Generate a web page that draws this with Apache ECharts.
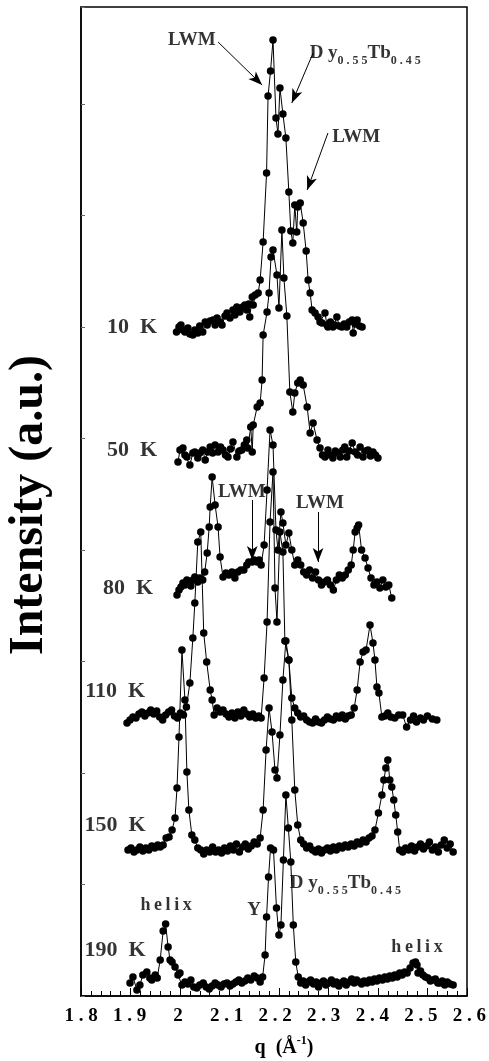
<!DOCTYPE html>
<html><head><meta charset="utf-8">
<script src="https://cdn.jsdelivr.net/npm/echarts@6/dist/echarts.min.js"></script>
<style>html,body{margin:0;padding:0;background:#fff}#c{width:489px;height:1061px}</style>
</head><body><div id="c"></div>
<script>
// ---------- DATA ----------
const temps = ['10  K', '50  K', '80  K', '110  K', '150  K', '190  K'];
// vertical offset of each scan (a.u.)
const offsets = [666, 541, 406, 274, 146, 11];
// [q (1/Å), intensity above own baseline (a.u.)]
const c10 = [[1.993,-2],[1.998,3],[2.002,5],[2.006,0],[2.010,-2],[2.016,2],[2.020,-4],[2.026,-5],[2.030,0],[2.036,-3],[2.040,4],[2.046,-2],[2.051,8],[2.055,5],[2.061,9],[2.067,10],[2.071,5],[2.075,12],[2.081,8],[2.085,5],[2.091,14],[2.095,17],[2.101,12],[2.107,20],[2.111,15],[2.115,23],[2.121,18],[2.127,23],[2.131,25],[2.135,20],[2.139,26],[2.141,13],[2.146,33],[2.148,25],[2.152,35],[2.158,37],[2.162,50],[2.168,88],[2.175,157],[2.178,234],[2.183,259],[2.188,290],[2.194,212],[2.198,196],[2.202,242],[2.208,216],[2.214,192],[2.220,138],[2.224,99],[2.228,87],[2.232,125],[2.236,98],[2.238,123],[2.243,127],[2.249,107],[2.255,79],[2.259,50],[2.263,37],[2.267,20],[2.273,17],[2.279,13],[2.283,8],[2.287,7],[2.293,17],[2.297,5],[2.299,3],[2.304,8],[2.309,3],[2.313,5],[2.317,13],[2.322,4],[2.327,3],[2.332,6],[2.337,3],[2.342,8],[2.348,10],[2.350,-3],[2.354,6],[2.358,10],[2.363,4],[2.368,3]];
const c50 = [[1.996,-7],[2.000,5],[2.006,7],[2.010,0],[2.014,-2],[2.020,-10],[2.026,2],[2.030,3],[2.036,-3],[2.040,2],[2.046,5],[2.051,-5],[2.056,3],[2.061,8],[2.066,2],[2.071,10],[2.077,3],[2.082,8],[2.087,5],[2.092,0],[2.097,-2],[2.102,6],[2.107,13],[2.115,-2],[2.120,4],[2.125,5],[2.130,10],[2.135,15],[2.137,7],[2.143,28],[2.146,3],[2.148,30],[2.156,48],[2.162,52],[2.166,75],[2.168,120],[2.176,143],[2.180,162],[2.184,198],[2.188,205],[2.196,180],[2.200,147],[2.206,225],[2.210,177],[2.216,139],[2.222,63],[2.228,43],[2.232,62],[2.238,72],[2.243,75],[2.249,70],[2.257,48],[2.263,22],[2.269,32],[2.277,15],[2.283,7],[2.288,0],[2.293,-2],[2.299,5],[2.304,0],[2.309,-3],[2.314,4],[2.319,2],[2.324,-2],[2.329,5],[2.333,8],[2.337,-2],[2.342,4],[2.348,12],[2.354,3],[2.359,0],[2.364,8],[2.370,-2],[2.375,4],[2.380,5],[2.385,-1],[2.390,3],[2.395,0],[2.400,-3]];
const c80 = [[1.994,-5],[1.998,0],[2.002,3],[2.006,7],[2.010,5],[2.014,10],[2.018,8],[2.022,4],[2.026,10],[2.030,13],[2.036,8],[2.040,12],[2.046,10],[2.050,18],[2.055,37],[2.059,63],[2.061,83],[2.065,113],[2.071,85],[2.077,63],[2.081,33],[2.087,13],[2.093,17],[2.099,15],[2.105,18],[2.111,12],[2.117,18],[2.123,20],[2.129,20],[2.135,25],[2.139,28],[2.146,28],[2.150,30],[2.156,28],[2.160,30],[2.164,25],[2.170,45],[2.176,100],[2.182,160],[2.188,145],[2.194,60],[2.198,40],[2.204,78],[2.208,67],[2.214,45],[2.220,57],[2.226,40],[2.232,25],[2.238,30],[2.244,25],[2.250,18],[2.256,15],[2.262,20],[2.268,12],[2.274,18],[2.280,10],[2.286,5],[2.292,8],[2.298,10],[2.304,5],[2.310,0],[2.316,10],[2.322,15],[2.328,12],[2.334,15],[2.340,20],[2.346,25],[2.350,40],[2.354,58],[2.358,62],[2.361,65],[2.367,40],[2.374,32],[2.380,22],[2.386,12],[2.392,5],[2.398,8],[2.404,2],[2.410,10],[2.416,3],[2.422,5],[2.428,-8]];
const c110 = [[1.893,-1],[1.899,2],[1.905,5],[1.911,4],[1.917,8],[1.923,10],[1.929,6],[1.935,9],[1.941,12],[1.947,8],[1.953,11],[1.959,5],[1.965,2],[1.971,7],[1.977,10],[1.983,12],[1.989,6],[1.995,4],[2.001,9],[2.007,7],[2.013,15],[2.020,39],[2.026,84],[2.030,119],[2.036,180],[2.042,190],[2.048,89],[2.054,60],[2.061,32],[2.065,22],[2.069,7],[2.075,14],[2.081,10],[2.087,12],[2.093,8],[2.099,5],[2.105,9],[2.111,4],[2.117,10],[2.123,6],[2.129,12],[2.135,8],[2.141,5],[2.147,8],[2.153,4],[2.159,6],[2.164,4],[2.170,44],[2.176,100],[2.182,200],[2.188,250],[2.192,134],[2.196,100],[2.202,190],[2.208,170],[2.212,81],[2.220,62],[2.226,24],[2.232,14],[2.238,9],[2.244,5],[2.250,6],[2.256,2],[2.262,0],[2.268,-1],[2.274,3],[2.280,0],[2.286,-1],[2.292,2],[2.298,5],[2.304,3],[2.310,2],[2.316,6],[2.322,4],[2.328,7],[2.334,3],[2.340,6],[2.346,7],[2.352,14],[2.358,32],[2.364,60],[2.370,70],[2.376,72],[2.384,97],[2.390,79],[2.394,62],[2.398,35],[2.402,29],[2.408,5],[2.414,6],[2.420,9],[2.426,5],[2.434,4],[2.442,7],[2.450,7],[2.458,-5],[2.466,2],[2.472,6],[2.478,0],[2.486,4],[2.492,2],[2.500,6],[2.510,3],[2.519,2]];
const c150 = [[1.895,0],[1.901,2],[1.907,-2],[1.913,0],[1.919,3],[1.925,-1],[1.931,2],[1.937,0],[1.943,4],[1.949,2],[1.955,5],[1.960,3],[1.966,5],[1.972,12],[1.978,13],[1.984,20],[1.990,32],[1.994,62],[1.998,113],[2.004,200],[2.010,150],[2.014,78],[2.018,40],[2.024,15],[2.030,10],[2.036,2],[2.042,0],[2.048,-4],[2.054,0],[2.060,-2],[2.066,3],[2.072,-2],[2.078,0],[2.084,-3],[2.090,2],[2.096,-1],[2.102,4],[2.108,0],[2.114,6],[2.120,-2],[2.126,3],[2.132,6],[2.138,1],[2.144,4],[2.150,8],[2.156,6],[2.162,12],[2.168,40],[2.174,100],[2.180,142],[2.186,118],[2.192,80],[2.196,72],[2.202,115],[2.208,170],[2.214,209],[2.220,190],[2.226,130],[2.232,60],[2.238,25],[2.244,10],[2.250,6],[2.256,2],[2.262,4],[2.268,0],[2.274,-2],[2.280,1],[2.286,-3],[2.292,0],[2.298,2],[2.304,-1],[2.310,3],[2.316,0],[2.322,4],[2.328,2],[2.334,5],[2.340,3],[2.346,6],[2.352,4],[2.358,8],[2.364,6],[2.370,10],[2.376,8],[2.382,12],[2.388,14],[2.394,20],[2.401,37],[2.408,55],[2.412,70],[2.416,82],[2.420,90],[2.424,70],[2.428,63],[2.432,50],[2.436,35],[2.440,18],[2.444,0],[2.450,-2],[2.456,2],[2.462,0],[2.468,4],[2.474,-1],[2.480,3],[2.486,6],[2.492,1],[2.498,4],[2.504,8],[2.510,0],[2.516,3],[2.522,-2],[2.528,5],[2.534,10],[2.540,2],[2.546,6],[2.552,-2]];
const c190 = [[1.899,2],[1.905,8],[1.913,-5],[1.919,0],[1.925,10],[1.933,13],[1.939,7],[1.943,5],[1.950,10],[1.954,7],[1.960,25],[1.966,54],[1.971,61],[1.976,38],[1.980,25],[1.984,23],[1.990,18],[1.996,10],[2.000,12],[2.004,0],[2.010,3],[2.016,1],[2.022,5],[2.028,-2],[2.034,-3],[2.040,0],[2.047,2],[2.053,-2],[2.059,-4],[2.065,-1],[2.071,2],[2.077,0],[2.083,-2],[2.089,1],[2.095,2],[2.101,-1],[2.107,1],[2.113,3],[2.119,5],[2.125,2],[2.131,4],[2.137,7],[2.143,5],[2.150,9],[2.156,7],[2.162,3],[2.167,8],[2.172,30],[2.175,68],[2.179,108],[2.183,137],[2.189,135],[2.195,77],[2.200,50],[2.204,60],[2.209,125],[2.214,190],[2.219,157],[2.224,123],[2.229,60],[2.234,23],[2.239,8],[2.244,2],[2.249,4],[2.254,0],[2.259,3],[2.264,5],[2.270,1],[2.275,3],[2.280,-2],[2.285,2],[2.290,4],[2.295,0],[2.300,2],[2.306,5],[2.311,1],[2.316,3],[2.321,-1],[2.326,2],[2.331,4],[2.336,0],[2.342,3],[2.347,6],[2.352,2],[2.357,5],[2.362,3],[2.367,1],[2.372,4],[2.378,2],[2.383,5],[2.388,3],[2.393,6],[2.398,4],[2.403,7],[2.409,5],[2.414,8],[2.419,6],[2.424,9],[2.429,7],[2.434,10],[2.439,8],[2.444,12],[2.449,10],[2.454,13],[2.459,12],[2.465,17],[2.471,22],[2.476,23],[2.479,20],[2.481,12],[2.486,14],[2.491,10],[2.496,8],[2.501,7],[2.506,4],[2.511,5],[2.516,6],[2.521,2],[2.525,2],[2.530,4],[2.535,0],[2.540,3],[2.546,1],[2.552,0]];
const curves = [c10, c50, c80, c110, c150, c190];
const xTickLabels = ['1.8','1.9','2','2.1','2.2','2.3','2.4','2.5','2.6'];
// temperature label anchors [q, a.u.]
const tempLabelPos = [[1.903,669],[1.903,546],[1.895,408],[1.869,305],[1.869,171],[1.869,46]];
// annotations: [kind, q, a.u.]
const notes = [['LWM',2.024,956],['DY',2.262,941],['LWM',2.356,859],['LWM',2.125,504],['LWM',2.283,493],['helix',1.972,91],['Y',2.150,86],['DY',2.222,111],['helix',2.479,49]];
// arrows: [[q0,v0],[q1,v1]]
const arrows = [[[2.077,954],[2.166,911]],[[2.269,943],[2.226,893]],[[2.299,863],[2.257,806]],[[2.146,496],[2.146,436]],[[2.279,484],[2.279,434]]];

// ---------- CHART ----------
const FONT = '"Liberation Serif","DejaVu Serif",serif';
const chart = echarts.init(document.getElementById('c'), null, {renderer: 'canvas'});
const curveSeries = curves.map((c, k) => ({
  type: 'line', xAxisIndex: 0, yAxisIndex: 0, silent: true, animation: false,
  data: c.map(p => [p[0], p[1] + offsets[k]]),
  symbol: 'circle', symbolSize: 7.5, showSymbol: true,
  lineStyle: {color: '#000', width: 1}, itemStyle: {color: '#000'}, z: 2
}));
const richDy = {
  b: {fontFamily: FONT, fontWeight: 'bold', fontSize: 19, color: '#000', verticalAlign: 'bottom', padding: [0,0,4,0]},
  s: {fontFamily: FONT, fontWeight: 'bold', fontSize: 12, color: '#000', verticalAlign: 'bottom'}
};
const noteData = notes.map(n => {
  let text, align = 'center', fs = 19;
  if (n[0] === 'DY') { text = '{b|D y}{s|0 . 5 5}{b|Tb}{s|0 . 4 5}'; align = 'left'; }
  else if (n[0] === 'helix') { text = 'h\u2009e\u2009l\u2009i\u2009x'; fs = 18; }
  else { text = n[0]; }
  return {value: [n[1], n[2]], label: {formatter: text, align: align, fontSize: fs, rich: richDy}};
});
const option = {
  animation: false,
  backgroundColor: '#fff',
  grid: [
    {left: 81, top: 7, width: 386, height: 989, show: true, borderColor: '#000', borderWidth: 1.5, backgroundColor: 'transparent'},
    {left: 81, top: 7, width: 396, height: 989, show: false}
  ],
  xAxis: [
    {gridIndex: 0, type: 'value', min: 1.8, max: 2.58, interval: 0.1,
     axisLine: {show: true, onZero: false, lineStyle: {color: '#000', width: 1.5}},
     axisTick: {show: true, inside: true, length: 8, lineStyle: {color: '#000', width: 1}},
     minorTick: {show: true, splitNumber: 5, length: 5, lineStyle: {color: '#000', width: 1}},
     axisLabel: {show: false}, splitLine: {show: false}},
    {gridIndex: 1, type: 'value', min: 1.8, max: 2.6, interval: 0.1,
     axisLine: {show: false}, axisTick: {show: false}, splitLine: {show: false},
     axisLabel: {show: true, margin: 11, fontFamily: FONT, fontWeight: 'bold', fontSize: 19, color: '#000',
       formatter: v => (xTickLabels[Math.round((v - 1.8) * 10)] || '').split('').join(' ')}}
  ],
  yAxis: [
    {gridIndex: 0, type: 'value', min: 0, max: 989, interval: 111.5,
     axisLine: {show: true, onZero: false, lineStyle: {color: '#000', width: 1.5}},
     axisTick: {show: true, inside: true, length: 4, lineStyle: {color: '#666', width: 1}},
     axisLabel: {show: false}, splitLine: {show: false}},
    {gridIndex: 1, type: 'value', min: 0, max: 1, show: false}
  ],
  series: curveSeries.concat([
    {type: 'scatter', xAxisIndex: 0, yAxisIndex: 0, symbolSize: 0, silent: true, z: 5,
     data: tempLabelPos.map((p, k) => ({value: p, label: {formatter: temps[k]}})),
     label: {show: true, position: 'inside', align: 'center', verticalAlign: 'middle', fontFamily: FONT, fontWeight: 'bold', fontSize: 22, color: '#000'}},
    {type: 'scatter', xAxisIndex: 0, yAxisIndex: 0, symbolSize: 0, silent: true, z: 5,
     data: noteData,
     label: {show: true, position: 'inside', verticalAlign: 'middle', fontFamily: FONT, fontWeight: 'bold', color: '#000'},
     markLine: {silent: true, animation: false, symbol: ['none', 'arrow'], symbolSize: [8, 14],
       lineStyle: {color: '#000', width: 1, type: 'solid'}, label: {show: false},
       data: arrows.map(a => [{coord: a[0]}, {coord: a[1]}])}}
  ]),
  graphic: [
    {type: 'text', x: 30, y: 505, rotation: Math.PI / 2,
     style: {text: 'Intensity (a.u.)', font: 'bold 48px "Liberation Serif"', fill: '#000', align: 'center', verticalAlign: 'middle'}},
    {type: 'text', x: 284, y: 1046,
     style: {text: '{a|q  (Å}{s|-1}{a|)}', align: 'center', verticalAlign: 'middle',
       rich: {a: {fontFamily: FONT, fontWeight: 'bold', fontSize: 20, fill: '#000', verticalAlign: 'top', padding: [3,0,0,0]},
              s: {fontFamily: FONT, fontWeight: 'bold', fontSize: 12, fill: '#000', verticalAlign: 'top'}}}}
  ]
};
chart.setOption(option);
</script></body></html>
